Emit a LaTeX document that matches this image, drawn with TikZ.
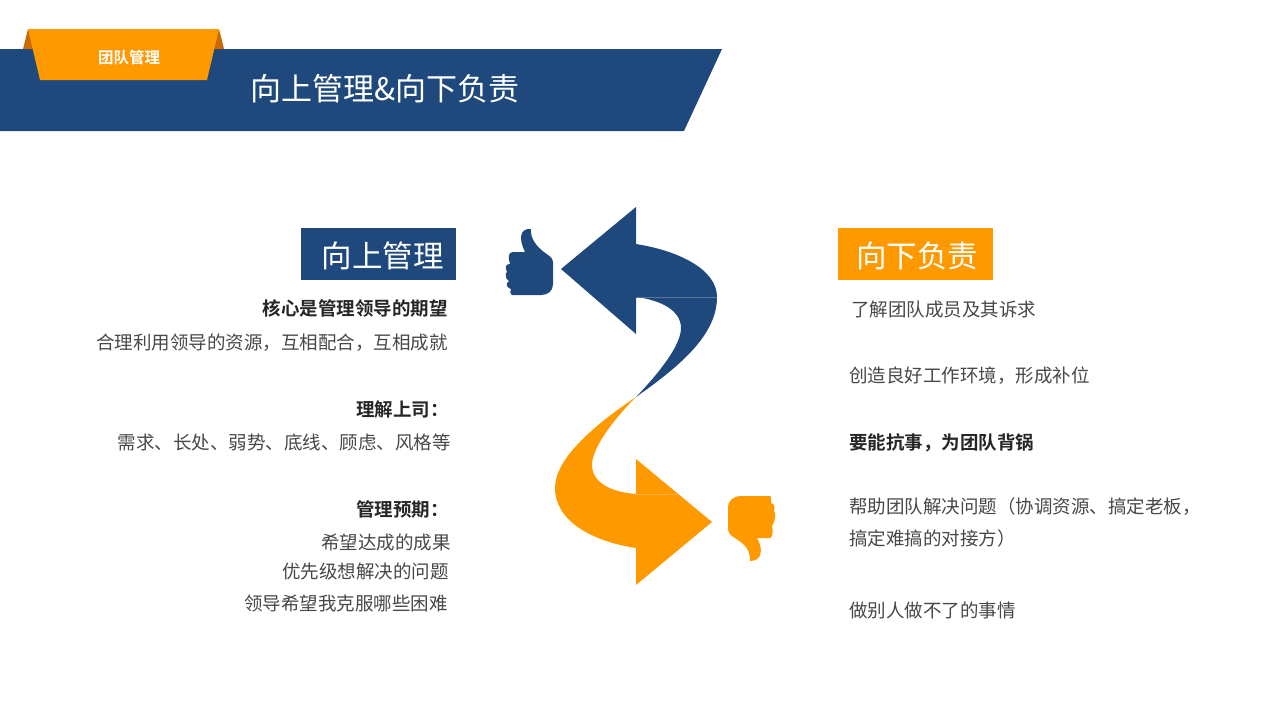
\documentclass[tikz,border=0pt]{standalone}
\usepackage{fontspec}
\setmainfont{Noto Sans CJK SC}[BoldFont={Noto Sans CJK SC Bold}]
\definecolor{navy}{HTML}{1F487C}
\definecolor{amber}{HTML}{FF9900}
\definecolor{amberdk}{HTML}{C86A00}
\definecolor{bodytxt}{HTML}{484848}
\definecolor{headtxt}{HTML}{262626}
\tikzset{
  lefttxt/.style={anchor=east,inner sep=0pt,text=bodytxt,font=\fontsize{18.5pt}{20pt}\selectfont},
  righttxt/.style={anchor=west,inner sep=0pt,text=bodytxt,font=\fontsize{18.5pt}{20pt}\selectfont},
  leftbold/.style={lefttxt,text=headtxt,font=\fontsize{18.5pt}{20pt}\selectfont\bfseries},
  rightbold/.style={righttxt,text=headtxt,font=\fontsize{18.5pt}{20pt}\selectfont\bfseries},
  headbox/.style={inner sep=0pt,minimum width=155pt,minimum height=52pt},
  headtext/.style={inner sep=0pt,text=white,font=\fontsize{30.5pt}{33pt}\selectfont},
}
\begin{document}
\begin{tikzpicture}[x=1pt,y=-1pt]
\useasboundingbox (0,0) rectangle (1280,720);
\fill[white] (0,0) rectangle (1280,720);
% banner
\fill[navy] (0,49) -- (722,49) -- (684,131) -- (0,131) -- cycle;
\fill[amberdk] (23,49) -- (28,29) -- (34,49) -- cycle;
\fill[amberdk] (219,29) -- (224,49) -- (213,49) -- cycle;
\fill[amber] (28,29) -- (219,29) -- (207,80) -- (40,80) -- cycle;
\node[inner sep=0pt,text=white,font=\fontsize{15.5pt}{17pt}\selectfont\bfseries] (tag) at (129,57.5) {团队管理};
\node[inner sep=0pt,anchor=west,text=white,font=\fontsize{31pt}{33pt}\selectfont] (title) at (250.5,89) {向上管理\&向下负责};
% heading boxes
\node[headbox,fill=navy] (up) at (378.5,254) {};
\node[headtext] (uptext) at (382.5,256) {向上管理};
\node[headbox,fill=amber] (down) at (915.5,254) {};
\node[headtext] (downtext) at (917,256) {向下负责};
% blue arrow
\fill[navy] (561,269) -- (636,207) -- (636,244)
  .. controls (680,251) and (717,270) .. (717,297)
  .. controls (717,335) and (680,366) .. (636,397)
  .. controls (660,372) and (681,345) .. (681,328)
  .. controls (681,310) and (660,300) .. (636,297)
  -- (636,334) -- cycle;
\draw[white!25!navy,line width=0.5pt] (636,297) -- (717,297);
% orange arrow
\fill[amber] (636,397)
  .. controls (590,428) and (555,460) .. (555,488)
  .. controls (555,520) and (590,541) .. (636,548)
  -- (636,585) -- (712,522) -- (636,459) -- (636,494)
  .. controls (610,492) and (592,482) .. (592,465)
  .. controls (592,448) and (613,420) .. (636,397) -- cycle;
\draw[white!25!amber,line width=0.5pt] (636,494) -- (678,494);
% thumb up
\fill[navy] (531,229) .. controls (530,238) and (536,247) .. (548,255)
  .. controls (551,257) and (553,259) .. (553,263)
  -- (553,284) .. controls (553,291) and (548,295) .. (541,295)
  -- (513,295) .. controls (510,295) and (510,292) .. (511,289)
  .. controls (508,288) and (506,286) .. (507,283) -- (509,281)
  .. controls (505,279) and (505,273) .. (507,272)
  .. controls (505,268) and (505,264) .. (510,264)
  .. controls (508,258) and (508,252) .. (513,252)
  -- (525,252) .. controls (519,240) and (519,228) .. (531,229) -- cycle;
% thumb down
\fill[amber] (770,496) .. controls (771,496) and (771,499) .. (771,503)
  .. controls (775,504) and (775,508) .. (774,511)
  .. controls (776,513) and (776,519) .. (772,526)
  .. controls (773,530) and (773,537) .. (770,538)
  -- (757,538) .. controls (763,548) and (763,561) .. (750,561)
  .. controls (750,550) and (746,545) .. (735,538)
  .. controls (730,535) and (728,533) .. (728,528)
  -- (728,508) .. controls (728,500) and (734,496) .. (741,496) -- cycle;
% left texts
\node[leftbold] (l1) at (448,308) {核心是管理领导的期望};
\node[lefttxt] (l2) at (448,343) {合理利用领导的资源，互相配合，互相成就};
\node[leftbold] (l3) at (449,409) {理解上司：};
\node[lefttxt] (l4) at (451,442) {需求、长处、弱势、底线、顾虑、风格等};
\node[leftbold] (l5) at (449,509) {管理预期：};
\node[lefttxt] (l6) at (451,542) {希望达成的成果};
\node[lefttxt] (l7) at (449,571) {优先级想解决的问题};
\node[lefttxt] (l8) at (448,603) {领导希望我克服哪些困难};
% right texts
\node[righttxt] (r1) at (851,310) {了解团队成员及其诉求};
\node[righttxt] (r2) at (849,376) {创造良好工作环境，形成补位};
\node[rightbold] (r3) at (849,443) {要能抗事，为团队背锅};
\node[righttxt] (r4) at (849,507) {帮助团队解决问题（协调资源、搞定老板，};
\node[righttxt] (r5) at (849,538) {搞定难搞的对接方）};
\node[righttxt] (r6) at (849,610) {做别人做不了的事情};
\end{tikzpicture}
\end{document}
